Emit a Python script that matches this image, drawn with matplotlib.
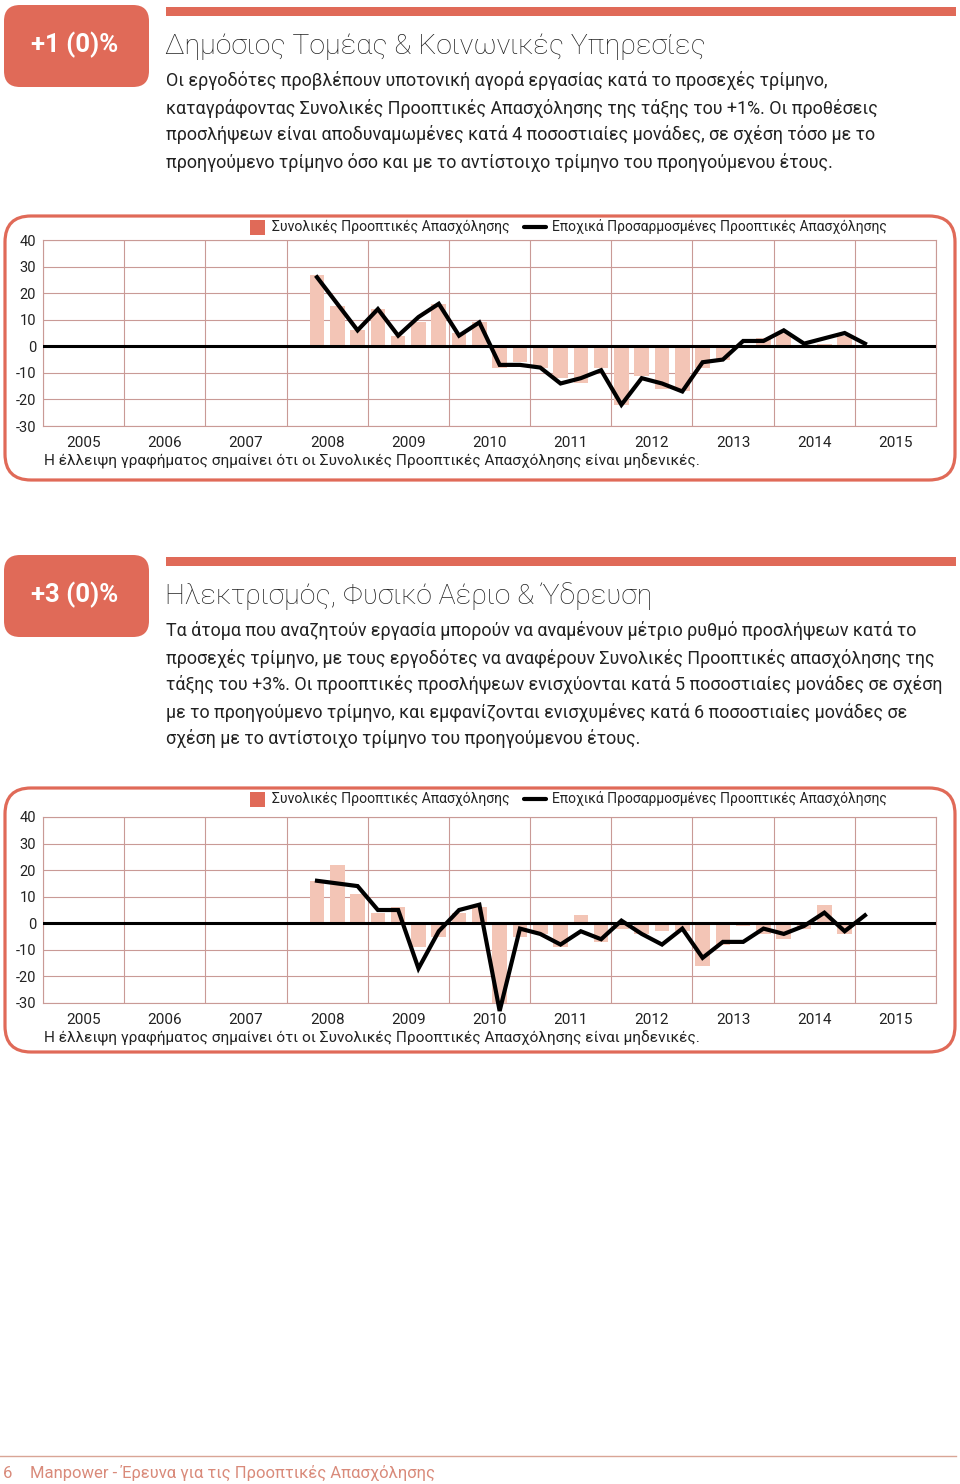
import numpy as np
import matplotlib.pyplot as plt
from matplotlib.patches import FancyBboxPatch, Rectangle

# quarterly series, first value is Q2 2008, last is Q1 2015
start_year = 2008
start_quarter = 2
years = [str(y) for y in range(2005, 2016)]
y_ticks = [40, 30, 20, 10, 0, -10, -20, -30]

# Δημόσιος Τομέας & Κοινωνικές Υπηρεσίες
neo_public = [27, 15, 6, 14, 4, 9, 16, 5, 9, -8, -6, -8, -12, -14, -8, -22,
              -11, -16, -17, -8, -5, 0, 3, 5, 0, 1, 4, 0]
sa_public = [26, 16, 6, 14, 4, 11, 16, 4, 9, -7, -7, -8, -14, -12, -9, -22,
             -12, -14, -17, -6, -5, 2, 2, 6, 1, 3, 5, 1]

# Ηλεκτρισμός, Φυσικό Αέριο & Ύδρευση
neo_utilities = [16, 22, 11, 4, 6, -9, -5, 4, 6, -30, -5, -4, -9, 3, -7, -2,
                 -4, -3, -3, -16, -8, -1, -4, -6, -2, 7, -4, 0]
sa_utilities = [16, 15, 14, 5, 5, -17, -3, 5, 7, -33, -2, -4, -8, -3, -6, 1,
                -4, -8, -2, -13, -7, -7, -2, -4, -1, 4, -3, 3]

badge_public = "+1 (0)%"
badge_utilities = "+3 (0)%"
title_public = "Δημόσιος Τομέας & Κοινωνικές Υπηρεσίες"
title_utilities = "Ηλεκτρισμός, Φυσικό Αέριο & Ύδρευση"
text_public = [
    "Οι εργοδότες προβλέπουν υποτονική αγορά εργασίας κατά το προσεχές τρίμηνο,",
    "καταγράφοντας Συνολικές Προοπτικές Απασχόλησης της τάξης του +1%. Οι προθέσεις",
    "προσλήψεων είναι αποδυναμωμένες κατά 4 ποσοστιαίες μονάδες, σε σχέση τόσο με το",
    "προηγούμενο τρίμηνο όσο και με το αντίστοιχο τρίμηνο του προηγούμενου έτους.",
]
text_utilities = [
    "Τα άτομα που αναζητούν εργασία μπορούν να αναμένουν μέτριο ρυθμό προσλήψεων κατά το",
    "προσεχές τρίμηνο, με τους εργοδότες να αναφέρουν Συνολικές Προοπτικές απασχόλησης της",
    "τάξης του +3%. Οι προοπτικές προσλήψεων ενισχύονται κατά 5 ποσοστιαίες μονάδες σε σχέση",
    "με το προηγούμενο τρίμηνο, και εμφανίζονται ενισχυμένες κατά 6 ποσοστιαίες μονάδες σε",
    "σχέση με το αντίστοιχο τρίμηνο του προηγούμενου έτους.",
]
legend_bar = "Συνολικές Προοπτικές Απασχόλησης"
legend_line = "Εποχικά Προσαρμοσμένες Προοπτικές Απασχόλησης"
caption = "Η έλλειψη γραφήματος σημαίνει ότι οι Συνολικές Προοπτικές Απασχόλησης είναι μηδενικές."
footer = "Manpower - Έρευνα για τις Προοπτικές Απασχόλησης"

CORAL = '#E06A58'
PEACH = '#F3C5B6'
GRID = '#C99A96'
TEXT = '#222222'

plt.rcParams['font.family'] = ['Roboto', 'DejaVu Sans']

W, H = 960, 1484
fig = plt.figure(figsize=(W / 100, H / 100), dpi=100)

# background axes in pixel units for boxes and page text
bg = fig.add_axes([0, 0, 1, 1], zorder=0)
bg.set_xlim(0, W)
bg.set_ylim(H, 0)
bg.axis('off')


def section_header(top, badge, title, lines):
    bg.add_patch(FancyBboxPatch((4, top + 0), 145, 82,
                                boxstyle="round,pad=0,rounding_size=16",
                                fc=CORAL, ec='none'))
    bg.text(75, top + 40, badge, color='white', fontsize=18.5, fontweight='bold',
            ha='center', va='center')
    bg.add_patch(Rectangle((166, top + 2), 790, 9, fc=CORAL, ec='none'))
    bg.text(165, top + 41, title, color=TEXT, fontsize=20.4, fontweight='light',
            ha='left', va='center')
    for i, line in enumerate(lines):
        bg.text(166, top + 76 + 27 * i, line, color=TEXT, fontsize=12.85,
                ha='left', va='center')


def chart(box_top, ax_top, neo, sa):
    # rounded frame
    bg.add_patch(FancyBboxPatch((5, box_top), 950, 264,
                                boxstyle="round,pad=0,rounding_size=26",
                                fc='none', ec=CORAL, lw=2.3))
    # legend
    bg.add_patch(Rectangle((250, box_top + 4), 15, 15, fc=CORAL, ec='none'))
    bg.text(272, box_top + 11, legend_bar, fontsize=10.05, color=TEXT,
            ha='left', va='center')
    bg.plot([524, 546], [box_top + 11, box_top + 11], color='black', lw=3,
            solid_capstyle='round')
    bg.text(552, box_top + 11, legend_line, fontsize=10, color=TEXT,
            ha='left', va='center')

    left, right = 43, 936
    bottom = ax_top + 186
    ax = fig.add_axes([left / W, 1 - bottom / H, (right - left) / W, 186 / H],
                      zorder=1)
    ax.patch.set_alpha(0)
    x = start_year + (start_quarter - 0.5) / 4 + 0.25 * np.arange(len(neo))
    ax.bar(x, neo, width=0.18, color=PEACH, zorder=2)
    ax.axhline(0, color='black', lw=2.2, zorder=3)
    ax.plot(x, sa, color='black', lw=3, zorder=4, clip_on=False,
            solid_joinstyle='miter')
    ax.set_xlim(2005, 2016)
    ax.set_ylim(-30, 40)
    ax.set_xticks(range(2005, 2017))
    ax.set_xticklabels([])
    ax.set_xticks(np.arange(2005.5, 2016), minor=True)
    ax.set_xticklabels(years, minor=True, fontsize=11, color=TEXT)
    ax.set_yticks(y_ticks)
    ax.set_yticklabels([str(v) for v in y_ticks], fontsize=10.5, color=TEXT)
    ax.tick_params(which='both', length=0)
    ax.tick_params(axis='x', which='minor', pad=7)
    ax.tick_params(axis='y', pad=5)
    ax.grid(True, which='major', color=GRID, lw=0.8, zorder=0)
    for s in ax.spines.values():
        s.set_color(GRID)
        s.set_linewidth(0.8)
    bg.text(44, ax_top + 221, caption, fontsize=11.1, color=TEXT,
            ha='left', va='center')


section_header(5, badge_public, title_public, text_public)
chart(216, 240, neo_public, sa_public)

section_header(555, badge_utilities, title_utilities, text_utilities)
chart(788, 817, neo_utilities, sa_utilities)

# footer
bg.plot([0, 956], [1456, 1456], color='#D9A596', lw=1)
bg.text(3, 1473, "6", fontsize=12, color='#D98A7A', ha='left', va='center')
bg.text(30, 1473, footer, fontsize=12, color='#D98A7A', ha='left', va='center')

fig.savefig('out.png', dpi=100)
